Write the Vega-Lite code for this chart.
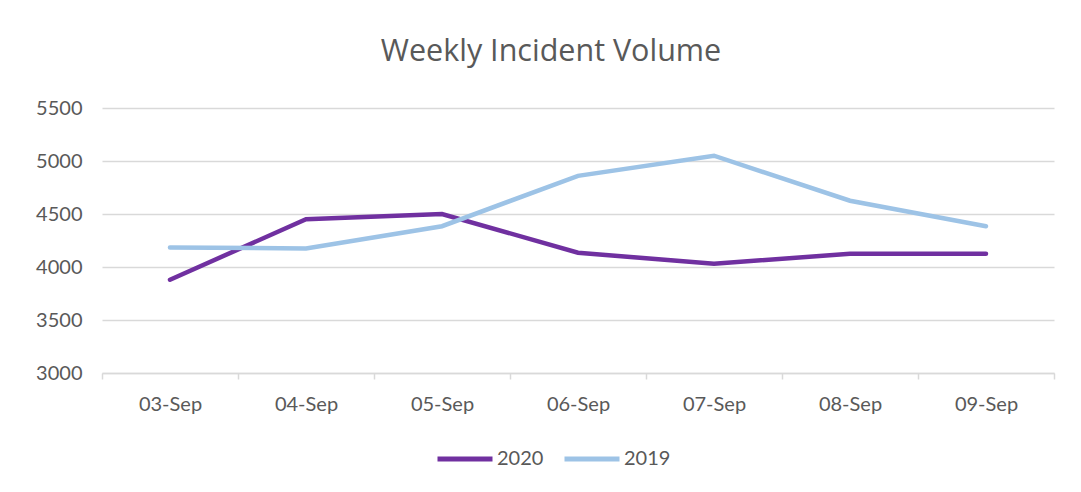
{
  "$schema": "https://vega.github.io/schema/vega-lite/v6.json",
  "width": 952,
  "height": 265,
  "autosize": {"type": "none"},
  "padding": {"left": 102, "top": 108, "right": 27, "bottom": 119},
  "background": "white",
  "title": {
    "text": "Weekly Incident Volume",
    "font": "Open Sans",
    "fontSize": 30.5,
    "fontWeight": "normal",
    "color": "#595959",
    "anchor": "middle",
    "frame": "group",
    "dx": -27,
    "offset": 31
  },
  "data": {
    "values": [
      {"date": "03-Sep", "year": "2020", "value": 3880},
      {"date": "04-Sep", "year": "2020", "value": 4450},
      {"date": "05-Sep", "year": "2020", "value": 4500},
      {"date": "06-Sep", "year": "2020", "value": 4135},
      {"date": "07-Sep", "year": "2020", "value": 4030},
      {"date": "08-Sep", "year": "2020", "value": 4125},
      {"date": "09-Sep", "year": "2020", "value": 4125},
      {"date": "03-Sep", "year": "2019", "value": 4185},
      {"date": "04-Sep", "year": "2019", "value": 4175},
      {"date": "05-Sep", "year": "2019", "value": 4385},
      {"date": "06-Sep", "year": "2019", "value": 4860},
      {"date": "07-Sep", "year": "2019", "value": 5050},
      {"date": "08-Sep", "year": "2019", "value": 4625},
      {"date": "09-Sep", "year": "2019", "value": 4385}
    ]
  },
  "mark": {"type": "line", "strokeWidth": 4.5, "strokeCap": "round"},
  "encoding": {
    "x": {
      "field": "date",
      "type": "ordinal",
      "sort": null,
      "scale": {"type": "band", "paddingInner": 0, "paddingOuter": 0},
      "axis": {
        "title": null,
        "labelAngle": 0,
        "labelFont": "Lato",
        "labelFontSize": 20,
        "labelColor": "#595959",
        "labelPadding": 15,
        "tickBand": "extent",
        "tickColor": "#d9d9d9",
        "tickWidth": 1.5,
        "tickSize": 6,
        "domainColor": "#d9d9d9",
        "domainWidth": 1.5,
        "grid": false
      }
    },
    "y": {
      "field": "value",
      "type": "quantitative",
      "scale": {"domain": [3000, 5500], "nice": false, "zero": false},
      "axis": {
        "title": null,
        "values": [3000, 3500, 4000, 4500, 5000, 5500],
        "format": "d",
        "labelFont": "Lato",
        "labelFontSize": 20,
        "labelColor": "#595959",
        "labelPadding": 20,
        "ticks": false,
        "domain": false,
        "grid": true,
        "gridColor": "#d9d9d9",
        "gridWidth": 1.5
      }
    },
    "color": {
      "field": "year",
      "type": "nominal",
      "scale": {"domain": ["2020", "2019"], "range": ["#7030A0", "#9DC3E6"]},
      "legend": {
        "title": null,
        "orient": "none",
        "direction": "horizontal",
        "legendX": 333,
        "legendY": 321,
        "symbolType": "stroke",
        "symbolSize": 3025,
        "symbolStrokeWidth": 5,
        "labelFont": "Lato",
        "labelFontSize": 20,
        "labelColor": "#595959",
        "labelOffset": 2,
        "columnPadding": 10,
        "padding": 0
      }
    }
  },
  "config": {"view": {"stroke": null}}
}
